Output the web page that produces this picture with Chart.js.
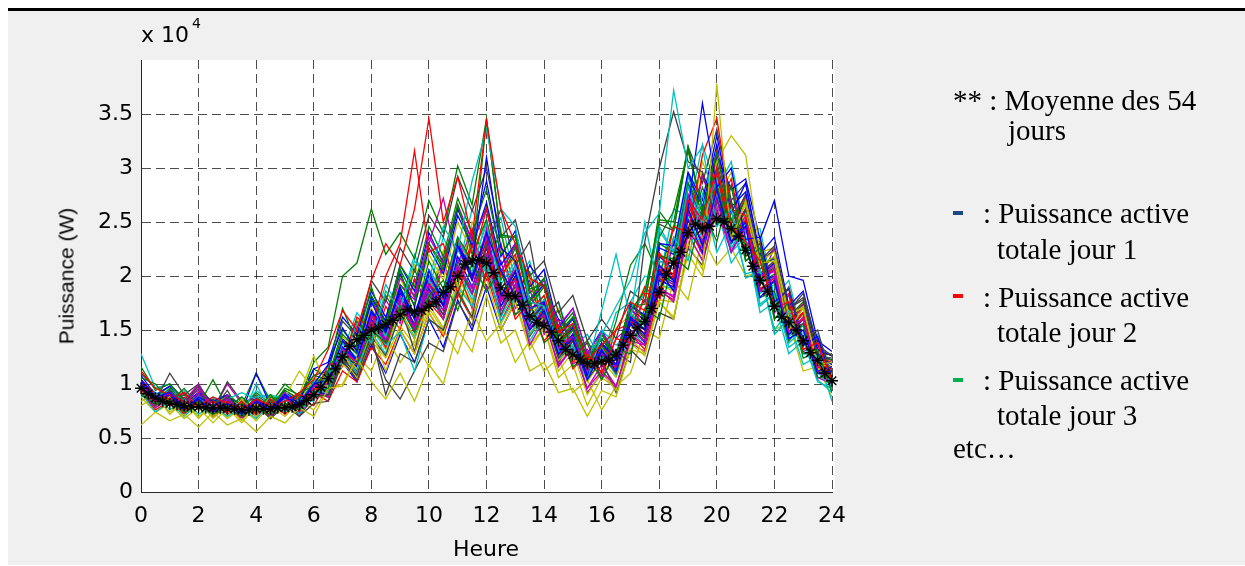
<!DOCTYPE html>
<html>
<head>
<meta charset="utf-8">
<script src="https://cdn.jsdelivr.net/npm/chart.js@4.4.1/dist/chart.umd.min.js"></script>
<style>
  html, body { margin: 0; padding: 0; background: #fff; }
  body { width: 1245px; height: 566px; position: relative; overflow: hidden; }
  #fond { position: absolute; left: 8px; top: 11px; width: 1237px; height: 554px; background: #f0f0f0; }
  #trait { position: absolute; left: 8px; top: 8px; width: 1237px; height: 3px; background: #000; }
  #graphe { position: absolute; left: 0; top: 0; }
  .txt { position: absolute; font-family: "DejaVu Sans", Arial, sans-serif; color: #000; white-space: nowrap; }
  .leg { position: absolute; font-family: "Liberation Serif", "Times New Roman", serif; font-size: 29px; line-height: 29px; color: #000; white-space: nowrap; }
  .tiret { position: absolute; width: 10px; height: 4px; }
</style>
</head>
<body>
<div id="fond"></div>
<div id="trait"></div>
<canvas id="graphe" width="1245" height="566"></canvas>

<div class="txt" style="left:141px;top:24px;font-size:22px;line-height:22px">x 10</div>
<div class="txt" style="left:192px;top:16px;font-size:14px;line-height:14px">4</div>
<div class="txt" style="left:486px;top:538px;font-size:22px;line-height:22px;transform:translateX(-50%)">Heure</div>
<div class="txt" style="left:66px;top:276px;font-family:'Liberation Sans',Arial,sans-serif;font-size:21px;line-height:21px;transform:translate(-50%,-50%) rotate(-90deg)">Puissance (W)</div>

<div class="leg" style="left:953px;top:86px">** : Moyenne des 54</div>
<div class="leg" style="left:1008px;top:116px">jours</div>
<div class="tiret" style="left:953px;top:211px;background:#1f497d"></div>
<div class="leg" style="left:983px;top:199px">: Puissance active</div>
<div class="leg" style="left:997px;top:235px">totale jour 1</div>
<div class="tiret" style="left:953px;top:294px;background:#ff0000"></div>
<div class="leg" style="left:983px;top:283px">: Puissance active</div>
<div class="leg" style="left:997px;top:318px">totale jour 2</div>
<div class="tiret" style="left:953px;top:378px;background:#00b050"></div>
<div class="leg" style="left:983px;top:366px">: Puissance active</div>
<div class="leg" style="left:997px;top:401px">totale jour 3</div>
<div class="leg" style="left:953px;top:434px">etc…</div>

<script>
// Puissance en centaines de W (x100 = W)

// moyenne des 54 jours, pas de 15 min (0h -> 24h)
const moyenne = [
  96, 91, 87, 84, 82, 81, 80, 79, 79, 78, 78, 78, 77,
  77, 76, 76, 77, 77, 77, 78, 78, 79, 81, 85, 90,
  97, 105, 114, 125, 135, 141, 145, 150, 152, 155, 159, 164,
  169, 167, 168, 172, 176, 185, 190, 200, 211, 214, 215, 212,
  203, 189, 182, 181, 173, 163, 157, 154, 148, 140, 132, 127,
  123, 119, 119, 121, 122, 127, 136, 145, 152, 158, 170, 185,
  202, 212, 222, 240, 248, 244, 246, 253, 250, 244, 237, 224,
  209, 196, 186, 172, 162, 157, 150, 140, 129, 122, 110, 103
];

// journées, pas de 30 min (0h -> 24h)
const jours = [
  [104,88,92,78,86,74,82, 72,84,76,88,80,100,118, 152,130,176,148,190,160,205, 172,228,196,240,205,182,150, 168,128,142,104,130,118,162, 150,205,186,262,228,280,232, 246,180,196,142,150,110,112],
  [112,96,90,84,80,88,82, 76,86,80,84,92,104,132, 168,150,196,230,210,262,346, 250,292,236,344,262,230,198, 190,148,156,122,136,150,176, 168,222,198,270,252,300,246, 232,214,170,176,132,138,104],
  [90,82,84,74,80,72,78, 70,78,72,82,76,92,96, 128,118,150,138,172,148,182, 196,168,212,186,206,164,176, 138,150,116,126,104,132,128, 170,160,218,206,262,232,284, 214,226,160,176,128,132,92],
  [88,92,76,86,72,80,70, 78,68,82,74,86,84,110, 120,156,138,186,170,214,196, 246,224,288,336,262,246,176, 172,130,134,104,146,172,196, 240,258,372,300,320,246,262, 198,204,150,168,128,126,96],
  [100,84,92,80,96,78,86, 76,84,74,88,78,98,100, 132,120,156,140,176,150,192, 168,210,188,244,176,196,152, 164,134,144,112,128,116,150, 140,188,176,240,226,270,222, 246,186,200,148,162,112,100],
  [62,74,66,72,60,74,62, 68,56,70,64,78,70,96, 98,124,102,86,110,84,118, 100,150,130,182,138,150,112, 120,92,96,70,94,88,132, 128,176,160,230,206,378,232, 270,212,214,150,170,118,120],
  [92,80,94,82,98,72,88, 76,84,68,80,70,88,90, 124,108,146,90,128,120,160, 150,186,162,228,262,210,232, 160,176,126,138,104,130,120, 232,300,352,306,296,250,268, 218,230,170,190,140,150,104],
  [98,86,90,76,88,80,86, 74,86,78,90,82,100,104, 140,122,168,150,184,166,200, 180,226,210,310,226,214,170, 176,128,146,108,138,122,160, 150,210,196,262,360,282,300, 234,236,176,188,136,144,104],
  [104,90,86,92,78,84,74, 84,72,86,76,90,86,118, 120,162,150,200,230,316,222, 230,184,228,196,206,160,176, 140,154,114,128,110,142,138, 184,182,246,240,312,346,262, 256,186,196,150,160,116,110],
  [106,100,84,96,80,104,78, 88,76,90,74,92,98,112, 170,138,190,150,206,160,214, 188,236,214,345,238,236,188, 192,138,150,112,136,118,168, 186,252,250,320,262,284,236, 230,180,186,140,156,106,108],
  [92,74,84,70,82,72,88, 70,100,74,86,72,94,92, 132,110,156,136,148,112,160, 150,190,172,214,158,180,156, 172,136,150,116,168,220,160, 250,184,236,214,276,222,250, 202,206,146,160,118,126,84],
  [96,80,90,84,100,74,90, 68,86,76,92,72,92,88, 132,110,164,136,178,152,186, 160,208,184,220,168,192,136, 160,116,134,96,112,98,140, 136,190,180,240,214,262,222, 246,200,204,150,156,106,100],
  [84,90,72,84,68,82,70, 86,70,90,74,90,126,96, 130,106,152,112,150,128,166, 146,190,160,198,150,176,132, 152,112,130,90,112,94,138, 126,176,162,220,200,262,236, 258,210,218,162,172,116,104],
  [98,84,110,90,100,78,88, 72,80,68,86,70,82,84, 122,104,140,104,86,112,138, 130,176,154,206,164,192,150, 166,124,140,104,122,92,132, 118,166,160,226,210,270,244, 270,214,228,170,178,126,128],
  [102,86,92,78,86,74,82, 70,84,74,90,78,98,96, 134,122,166,148,188,152,192, 172,230,200,240,182,204,154, 174,130,146,108,132,112,156, 138,196,190,252,222,272,230, 250,194,200,146,160,112,116],
  [94,84,90,74,84,72,84, 70,84,74,88,74,96,92, 130,120,158,134,174,148,176, 160,206,170,230,176,198,150, 170,128,144,106,136,114,158, 150,206,202,266,240,284,232, 252,188,198,150,166,118,114],
  [100,82,90,76,86,74,84, 72,86,78,96,90,108,104, 146,132,178,156,210,190,246, 218,272,240,280,220,238,172, 190,140,156,116,146,124,176, 160,236,260,316,262,300,240, 250,188,194,146,156,112,108],
  [104,88,94,78,88,74,86, 92,86,76,92,80,102,98, 138,124,168,144,188,160,206, 182,236,208,248,188,210,160, 178,130,146,110,134,114,166, 150,214,206,282,248,290,222, 236,174,184,138,150,106,104],
  [92,78,86,76,92,72,82, 74,84,70,86,76,98,96, 134,120,164,142,182,154,198, 180,230,200,236,178,210,162, 176,132,146,92,110,96,146, 136,200,192,258,232,284,232, 256,194,206,156,166,116,114],
  [96,80,88,74,84,70,82, 72,82,72,88,112,96,92, 128,114,156,132,168,142,174, 152,198,176,214,156,178,136, 152,106,118,80,106,96,146, 136,192,186,248,226,280,240, 266,214,222,166,170,118,116],
  [98,84,90,74,84,76,102, 84,86,72,88,74,92,88, 124,112,154,136,174,130,182, 164,208,184,228,180,204,154, 176,128,142,106,128,110,156, 142,204,196,270,242,288,234, 262,202,214,160,172,126,124],
  [100,84,90,74,92,84,90, 74,110,80,88,74,94,90, 130,116,160,140,176,152,188, 168,218,190,226,172,200,154, 176,134,152,112,136,116,158, 146,202,194,262,230,280,232, 260,200,212,160,172,126,118],
  [92,76,84,72,84,70,80, 68,82,72,86,76,94,90, 126,116,154,134,176,154,192, 178,234,212,262,200,220,168, 182,138,152,114,138,118,162, 150,206,196,266,238,292,240, 262,198,206,158,170,120,116],
  [116,94,100,84,98,82,90, 80,110,84,90,80,104,102, 140,128,166,146,192,174,230, 210,266,220,252,196,226,178, 198,148,162,122,142,124,164, 156,218,216,286,260,314,250, 270,206,218,162,176,126,122],
  [96,80,86,72,82,70,80, 70,88,90,86,74,92,88, 122,114,152,132,168,144,184, 160,208,182,216,168,192,146, 166,124,136,106,128,108,150, 136,192,188,254,226,278,226, 246,184,192,144,154,110,100],
  [100,84,92,78,88,74,84, 72,86,76,90,80,98,100, 140,132,176,154,198,182,236, 212,266,232,262,202,230,178, 196,154,170,128,148,128,170, 154,214,206,276,246,294,242, 262,198,206,152,166,118,98],
  [88,74,82,68,78,64,78, 64,80,68,82,74,90,88, 118,108,140,124,154,136,170, 150,192,174,218,168,188,146, 162,122,134,102,122,106,142, 128,178,176,236,216,272,230, 256,196,206,156,164,114,104],
  [102,86,92,76,86,72,84, 70,84,74,88,78,96,94, 130,120,160,140,178,156,200, 180,230,198,232,178,200,158, 178,138,154,118,136,116,156, 144,198,188,258,230,282,234, 260,198,208,154,166,120,112],
  [104,88,94,80,88,74,88, 76,86,74,92,84,114,120, 162,146,186,162,202,172,226, 202,256,228,268,210,230,178, 192,144,160,122,142,124,172, 164,230,228,296,270,330,264, 278,210,216,162,172,128,122],
  [98,82,90,74,84,70,82, 68,82,72,86,76,92,84, 112,102,134,118,150,128,166, 144,184,160,202,158,184,146, 166,126,140,108,130,110,146, 132,186,178,244,222,276,232, 260,200,212,160,172,126,120],
  [102,84,96,78,88,78,88, 74,88,78,94,86,120,134, 200,212,262,220,240,216,270, 240,302,266,346,236,236,184, 198,150,166,120,142,124,172, 174,260,242,318,262,296,236, 258,192,202,152,164,118,114],
  [128,96,100,80,88,74,84, 72,88,70,88,78,98,96, 138,124,164,142,180,154,196, 176,224,204,252,192,214,166, 182,136,152,118,150,136,148, 140,242,222,292,250,284,230, 236,166,176,128,140,102,96],
  [96,80,92,76,88,76,100, 82,88,72,86,72,92,88, 126,118,158,144,192,178,230, 272,212,242,188,214,164,180, 164,118,134,96,118,98,138, 130,186,182,246,220,274,222, 256,196,226,164,174,122,104],
  [94,78,88,72,84,68,80, 66,82,68,86,84,106,102, 144,130,170,148,198,172,220, 196,250,222,252,198,218,162, 182,134,150,106,132,110,154, 142,198,192,262,240,306,330, 312,222,226,162,176,126,122],
  [100,84,94,78,90,76,94, 72,86,72,90,76,94,88, 122,104,144,126,166,142,188, 164,214,184,220,172,190,144, 164,120,140,104,134,116,164, 154,220,212,286,254,306,248, 276,210,226,168,184,136,126],
  [108,90,98,82,92,76,88, 72,88,76,92,82,102,100, 142,128,180,158,210,186,240, 212,262,234,288,218,242,190, 206,152,170,128,150,126,174, 162,226,220,294,264,322,258, 286,220,236,172,186,132,126],
  [94,80,90,74,86,72,84, 70,86,74,90,78,96,92, 128,114,156,138,176,150,194, 174,226,196,232,180,204,158, 176,132,150,112,136,116,160, 146,206,198,270,240,316,248, 272,202,214,158,174,126,122],
  [104,88,98,82,92,76,88, 76,92,82,100,88,114,106, 150,134,182,158,206,180,230, 206,262,228,264,204,228,176, 192,144,162,124,146,126,174, 162,230,222,294,258,316,252, 274,206,218,160,174,126,118],
  [92,78,88,72,88,76,86, 74,94,84,92,76,94,90, 124,110,148,128,164,142,182, 160,206,178,210,162,186,140, 162,122,140,106,132,114,164, 184,246,222,286,232,264,212, 232,172,184,134,144,104,92],
  [100,82,90,74,86,70,84, 72,88,74,92,78,100,96, 134,124,164,144,186,160,206, 184,234,200,240,180,206,158, 176,132,150,112,136,116,158, 146,208,202,274,244,300,240, 262,198,210,162,176,126,96],
  [80,88,74,84,70,80,68, 78,66,80,70,84,76,96, 100,126,112,146,120,140,116, 150,128,168,140,156,120,140, 112,124,92,104,76,98,110, 150,142,196,178,236,210,226, 200,204,150,158,112,116,88],
  [110,96,100,86,94,82,90, 80,90,80,94,86,108,112, 158,144,196,176,226,204,256, 236,292,260,300,236,252,200, 214,166,182,140,160,142,186, 176,248,242,320,286,336,270, 286,214,224,170,180,132,126],
  [98,82,94,76,88,74,86, 70,86,76,90,76,94,92, 120,102,136,110,146,120,160, 134,178,150,190,150,176,210, 190,160,150,120,138,124,168, 160,218,206,282,254,312,280, 290,234,270,200,196,140,130],
  [90,84,80,88,76,84,72, 80,70,84,72,86,80,104, 116,150,132,172,150,196,170, 208,180,236,206,230,176,196, 150,160,120,132,110,150,156, 190,176,236,226,296,262,290, 226,232,170,184,132,140,100],
  [94,88,84,90,78,86,74, 84,74,88,80,90,88,112, 124,158,140,182,160,206,176, 218,190,244,214,240,184,204, 156,168,128,140,116,158,210, 230,200,246,236,282,246,270, 214,222,160,174,124,130,92],
  [102,92,86,94,80,88,76, 86,74,90,80,92,92,116, 130,166,148,192,170,220,188, 236,204,262,228,254,194,214, 162,176,134,146,122,166,176, 200,196,262,256,322,280,306, 240,244,180,196,142,146,110],
  [96,88,82,92,76,86,74, 82,72,86,76,88,86,108, 122,154,136,178,156,198,172, 212,182,230,204,228,170,188, 146,160,118,130,106,142,154, 178,176,232,224,292,258,284, 224,230,166,182,130,136,98],
  [100,90,84,92,78,84,74, 82,72,86,78,90,90,110, 126,160,142,186,164,210,180, 224,192,250,218,244,182,200, 154,170,126,140,116,152,164, 190,188,248,240,306,272,296, 232,238,174,188,136,142,104]
];

// ordre des couleurs (bleu, rouge, vert, cyan, magenta, jaune, gris)
const couleurs = ['#0000ff', '#ff0000', '#008000', '#00bfbf', '#bf00bf', '#bfbf00', '#404040'];
const graduationsX = [0, 2, 4, 6, 8, 10, 12, 14, 16, 18, 20, 22, 24];

function versPoints(serie) {
    const pas = 24 / (serie.length - 1);
    return serie.map((v, k) => ({ x: k * pas, y: v * 100 }));
}

// fond blanc de la zone de tracé
const fondBlanc = {
    id: 'fondBlanc',
    beforeDraw(chart) {
        const { ctx, chartArea: a } = chart;
        ctx.save();
        ctx.fillStyle = '#fff';
        ctx.fillRect(a.left, a.top, a.right - a.left + 3, a.bottom - a.top);
        ctx.restore();
    }
};

const datasets = [{
    data: versPoints(moyenne),
    borderColor: '#000',
    borderWidth: 1.2,
    pointStyle: 'star',
    pointRadius: 6,
    pointBorderColor: '#000',
    pointBorderWidth: 1.4,
    clip: 10,
    order: 0
}];

jours.forEach((j, i) => {
    datasets.push({
        data: versPoints(j),
        borderColor: couleurs[i % couleurs.length],
        borderWidth: 1.3,
        pointRadius: 0,
        order: 1
    });
});

const police = { family: "'DejaVu Sans', Arial, sans-serif", size: 22 };
const grille = 'rgba(0, 0, 0, 0.7)';

new Chart(document.getElementById('graphe').getContext('2d'), {
    type: 'line',
    data: { datasets: datasets },
    options: {
        responsive: false,
        animation: false,
        events: [],
        layout: { padding: { top: 60, right: 413, bottom: 44, left: 0 } },
        elements: { line: { tension: 0 } },
        plugins: { legend: { display: false }, tooltip: { enabled: false } },
        scales: {
            x: {
                type: 'linear',
                min: 0,
                max: 24,
                afterFit(s) { s.height = 30; },
                afterBuildTicks(s) { s.ticks = graduationsX.map(v => ({ value: v })); },
                ticks: { color: '#000', font: police, padding: 11, maxRotation: 0, autoSkip: false },
                grid: { color: grille, drawTicks: false },
                border: { color: '#262626', dash: [9, 5] }
            },
            y: {
                min: 0,
                max: 40000,
                afterFit(s) { s.width = 141; },
                ticks: {
                    stepSize: 5000,
                    color: '#000',
                    font: police,
                    padding: 8,
                    callback: v => v >= 40000 ? '' : String(v / 10000)
                },
                grid: {
                    color: c => (c.tick && c.tick.value >= 40000) ? 'rgba(0,0,0,0)' : grille,
                    drawTicks: false
                },
                border: { color: '#262626', dash: [9, 5] }
            }
        }
    },
    plugins: [fondBlanc]
});
</script>
</body>
</html>
